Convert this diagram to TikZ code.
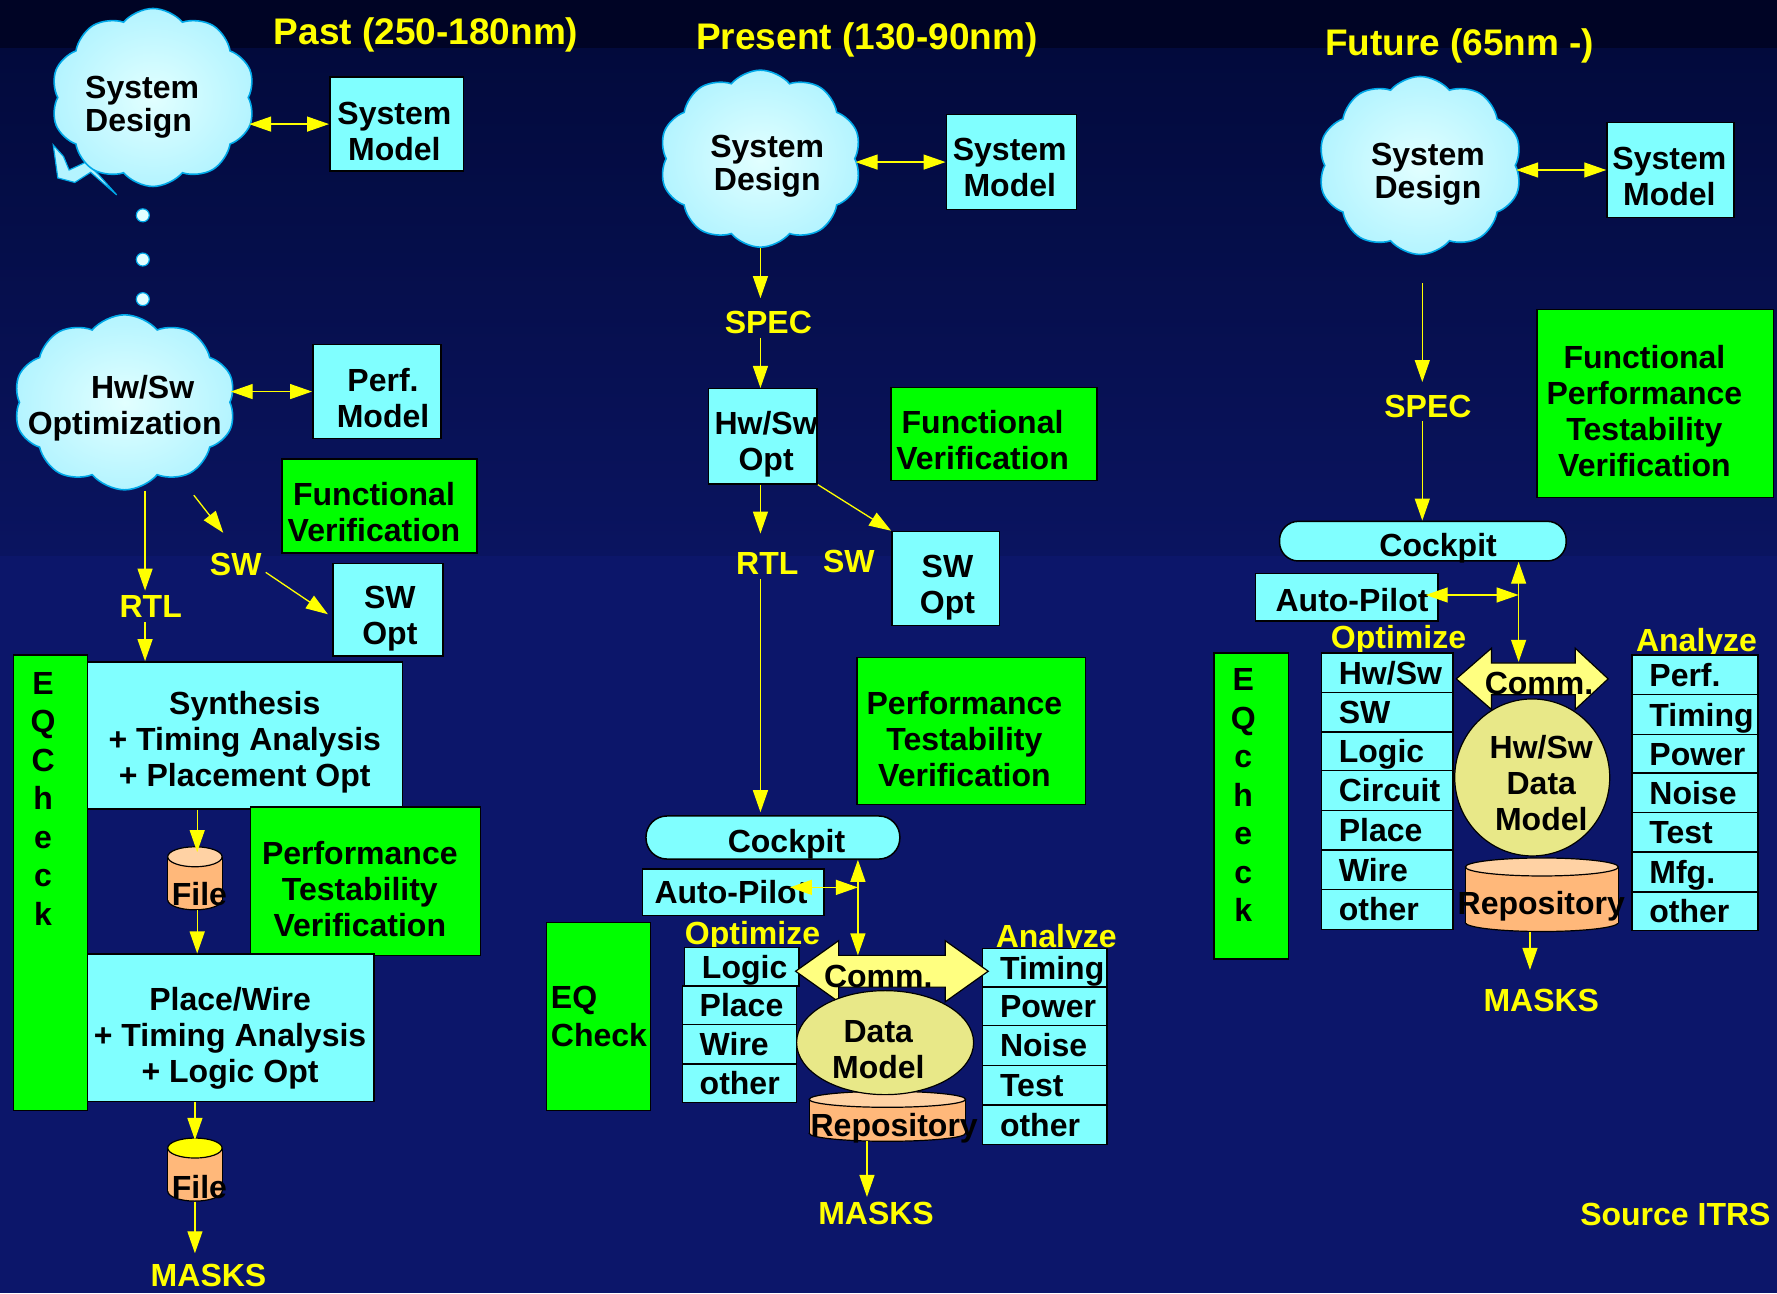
\documentclass[tikz,border=0pt]{standalone}
\usepackage{fontspec}
\setmainfont{Liberation Sans}
\usetikzlibrary{shapes.symbols,shapes.geometric,arrows.meta,fit,calc}
\definecolor{bgtop}{HTML}{000425}
\definecolor{bgmidA}{HTML}{020a3c}
\definecolor{bgmidB}{HTML}{0a1460}
\definecolor{bgbot}{HTML}{0c166a}
\definecolor{cyanc}{HTML}{80FFFF}
\definecolor{greenc}{HTML}{00FF00}
\definecolor{yellowc}{HTML}{FFFF00}
\definecolor{cloudin}{HTML}{E2FFFF}
\definecolor{cloudout}{HTML}{B4F4FF}
\definecolor{cloudline}{HTML}{00A8E8}
\definecolor{commc}{HTML}{FFFF80}
\definecolor{dmc}{HTML}{E8E888}
\definecolor{repbody}{HTML}{FFB87A}
\definecolor{reptop}{HTML}{FFD2A4}
\newcommand\bfz{\bfseries\fontsize{32}{36}\selectfont}
\newcommand\bfcl{\bfseries\fontsize{32}{33}\selectfont}
\newcommand\bfeq{\bfseries\fontsize{32}{38.5}\selectfont}
\newcommand\bfti{\bfseries\fontsize{37}{40}\selectfont}
% cylinder: x1,x2,ytop,ybot,rx,ry,body,top
\newcommand\cyl[8]{%
 \path[fill=#7, draw=black, line width=1.2pt] ({(#1+#2)/2},#4) ellipse [x radius=#5, y radius=#6];
 \fill[#7] (#1,#3) rectangle (#2,#4);
 \draw[line width=1.2pt] (#1,#3) -- (#1,#4) (#2,#3) -- (#2,#4);
 \path[fill=#8, draw=black, line width=1.2pt] ({(#1+#2)/2},#3) ellipse [x radius=#5, y radius=#6];
}
% comm arrow: left tip, head base 1, head base 2, right tip, yc
\newcommand\commarrow[5]{%
 \path[fill=commc, draw=black, line width=1.2pt] (#1,#5) -- (#2,{#5-27}) -- (#2,{#5-14}) -- (#3,{#5-14}) -- (#3,{#5-27}) -- (#4,#5) -- (#3,{#5+27}) -- (#3,{#5+14}) -- (#2,{#5+14}) -- (#2,{#5+27}) -- cycle;
}
% list item: name, x1,y1,x2,y2,text
\newcommand\li[6]{%
 \node[cbox, fit={(#2,#3)(#4,#5)}] (#1) {};
 \node[t1, anchor=west] (#1t) at ([xshift=18pt]#1.west) {#6};
}
\tikzset{
 base/.style={font=\bfz, align=center, inner sep=0pt},
 cbox/.style={base, draw=black, line width=1.5pt, fill=cyanc},
 gbox/.style={base, draw=black, line width=1.5pt, fill=greenc},
 t1/.style={base, text height=23pt, text depth=0pt},
 t2/.style={base, text height=59pt, text depth=0pt},
 t3/.style={base, text height=95pt, text depth=0pt},
 t4/.style={base, text height=131pt, text depth=0pt},
 ct2/.style={base, font=\bfcl, text height=56pt, text depth=0pt},
 lab/.style={base, text=yellowc, text height=23pt, text depth=0pt, inner sep=4pt},
 ttl/.style={base, font=\bfti, text=yellowc, text height=26.5pt, text depth=0pt, inner sep=4pt},
 arr/.style={draw=yellowc, line width=1.3pt, -{Triangle[length=22pt,width=15pt]}},
 dbl/.style={draw=yellowc, line width=1.3pt, {Triangle[length=22pt,width=15pt]}-{Triangle[length=22pt,width=15pt]}},
 cloudst/.style={cloud, cloud puffs=10, cloud puff arc=100, cloud ignores aspect, draw=cloudline, line width=1.6pt, shade, inner color=cloudin, outer color=cloudout, inner sep=0pt},
 dotst/.style={circle, minimum size=13pt, inner sep=0pt, fill=cloudin, draw=cloudline, line width=1.2pt},
 dm/.style={ellipse, draw=black, line width=1.2pt, fill=dmc, inner sep=0pt},
}
\begin{document}
\begin{tikzpicture}[x=1.133291pt, y=-1.133291pt]
% background
\useasboundingbox (0,0) rectangle (1568,1141);
\fill[bgbot] (0,0) rectangle (1568,1141);
\shade[top color=bgmidA, bottom color=bgmidB] (0,42) rectangle (1568,490);
\fill[bgtop] (0,0) rectangle (1568,42);

% titles
\node[ttl] (tpast) at (376,28) {Past (250-180nm)};
\node[ttl] (tpres) at (765,32) {Present (130-90nm)};
\node[ttl] (tfut) at (1288,37) {Future (65nm -)};

%================ PAST =================
\path[fill=cloudout, draw=cloudline, line width=1.2pt] (47,128) -- (51,157) -- (66,161) -- (80,152) -- (103,172) -- (86,153) -- (76,143) -- (61,150) -- (56,138) -- cycle;
\node[cloudst, minimum width=204pt, minimum height=178pt] (psd) at (135,86) {};
\node[ct2, anchor=west, align=left] (psdt) at (75,91) {System\\Design};
\node[cbox, fit={(291,68)(409,151)}] (psm) {};
\node[t2] (psmt) at (348,115.5) {System\\Model};
\draw[dbl] (psd.east |- psm.west) -- (psm.west);
\node[dotst] (pd1) at (126,190) {};
\node[dotst] (pd2) at (126,229) {};
\node[dotst] (pd3) at (126,264) {};
\node[cloudst, minimum width=222pt, minimum height=175pt] (phw) at (110,355) {};
\node[t2, text height=60pt] (phwt) at (110,356.5) {\hspace*{36pt}Hw/Sw\\Optimization};
\node[cbox, fit={(276,304)(389,387)}] (ppm) {};
\node[t2] (ppmt) at (338,351.5) {Perf.\\Model};
\draw[dbl] (phw.east |- ppm.west) -- (ppm.west);
\node[gbox, fit={(249,405)(421,488)}] (pfv) {};
\node[t2] (pfvt) at (330,452) {Functional\\Verification};
\coordinate (pax) at (128,0);
\node[lab] (prtl) at (133,535) {RTL};
\draw[arr] (phw.south -| pax) -- (prtl.north -| pax);
\node[gbox, fit={(12,578)(77,980)}] (peq) {};
\node[base, font=\bfeq, anchor=north] (peqt) at (38,593) {E\\Q\\C\\h\\e\\c\\k};
\node[cbox, fit={(77,584)(355,714)}] (psyn) {};
\node[t3] (psynt) at (216,652.5) {Synthesis\\+ Timing Analysis\\+ Placement Opt};
\draw[arr] (prtl.south -| pax) -- (psyn.north -| pax);
\node[lab] (psw) at (208,498) {SW};
\draw[arr] ($(phw.south)+(61,4)$) -- ($(psw.north)+(-11,-14)$);
\node[cbox, fit={(294,497)(391,579)}] (pswo) {};
\node[t2] (pswot) at (344,543) {SW\\Opt};
\draw[arr] ($(psw.east)+(0,7)$) -- ($(pswo.west)+(-4,4)$);
\node[gbox, fit={(221,712)(424,843)}] (pptv) {};
\node[t3] (pptvt) at (317.5,784) {Performance\\Testability\\Verification};
\cyl{148}{196}{756}{794}{27.2pt}{10pt}{repbody}{reptop}
\node[inner sep=0pt, fit={(148,752)(196,803)}] (pf1) {};
\node[t1] (pf1t) at (176,789) {File};
\coordinate (pfx) at (174,0);
\draw[arr] (psyn.south -| pfx) -- (pf1.north -| pfx);
\node[cbox, fit={(77,842)(330,972)}] (ppw) {};
\node[t3] (ppwt) at (203,913) {Place/Wire\\+ Timing Analysis\\+ Logic Opt};
\draw[arr] (pf1.south -| pfx) -- (ppw.north -| pfx);
\cyl{148}{196}{1013}{1051}{27.2pt}{10pt}{repbody}{yellowc}
\node[inner sep=0pt, fit={(148,1006)(196,1060)}] (pf2) {};
\node[t1] (pf2t) at (176,1047) {File};
\coordinate (pfx2) at (172,0);
\draw[arr] (ppw.south -| pfx2) -- (pf2.north -| pfx2);
\node[lab] (pmask) at (184,1125) {MASKS};
\draw[arr, shorten >=6pt] (pf2.south -| pfx2) -- (pmask.north -| pfx2);

%================ PRESENT =================
\node[cloudst, minimum width=202pt, minimum height=177pt] (prsd) at (671,140) {};
\node[ct2] (prsdt) at (677,143.5) {System\\Design};
\node[cbox, fit={(835,101)(950,185)}] (prsm) {};
\node[t2] (prsmt) at (891,147.5) {System\\Model};
\draw[dbl] (prsd.east |- prsm.west) -- (prsm.west);
\coordinate (prx) at (671,0);
\node[lab] (prspec) at (678,284) {SPEC};
\draw[arr, shorten >=8pt] (prsd.south -| prx) -- (prspec.north -| prx);
\node[cbox, fit={(625,343)(721,427)}] (prhw) {};
\node[t2] (prhwt) at (676,389.5) {Hw/Sw\\Opt};
\draw[arr] (prspec.south -| prx) -- (prhw.north -| prx);
\node[gbox, fit={(786,342)(968,424)}] (prfv) {};
\node[t2] (prfvt) at (867,388) {Functional\\Verification};
\node[lab] (prrtl) at (677,497) {RTL};
\node[lab] (prsw) at (749,495) {SW};
\draw[arr, shorten >=14pt] (prhw.south -| prx) -- (prrtl.north -| prx);
\node[cbox, fit={(787,469)(882,552)}] (prswo) {};
\node[t2] (prswot) at (836,515.5) {SW\\Opt};
\draw[arr] (prhw.south east) -- (prswo.north west);
\node[gbox, fit={(756,580)(958,710)}] (prptv) {};
\node[t3] (prptvt) at (851,652) {Performance\\Testability\\Verification};
\node[cbox, rounded corners=21pt, fit={(570,720)(794,758)}] (prck) {};
\node[t1] (prckt) at (694,742) {Cockpit};
\draw[arr, shorten >=3pt] (prrtl.south -| prx) -- (prck.north -| prx);
\node[cbox, fit={(567,767)(727,808)}] (prap) {};
\node[t1] (prapt) at (645,787) {Auto-Pilot};
\node[gbox, fit={(482,814)(574,980)}] (preq) {};
\node[base, font=\bfeq, anchor=west, align=left] (preqt) at (486,897) {EQ\\Check};
\node[lab] (propt) at (664,823) {Optimize};
\li{prl1}{604}{836}{705}{870}{Logic}
\li{prl2}{602}{870}{703}{904}{Place}
\li{prl3}{602}{904}{703}{939}{Wire}
\li{prl4}{602}{939}{703}{973}{other}
\node[lab] (prana) at (932,826) {Analyze};
\li{pra1}{867}{837}{977}{871}{Timing}
\li{pra2}{867}{871}{977}{905}{Power}
\li{pra3}{867}{905}{977}{940}{Noise}
\li{pra4}{867}{940}{977}{975}{Test}
\li{pra5}{867}{975}{977}{1010}{other}
\commarrow{702}{740}{834}{872}{857}
\node[t1] (prcomm) at (775,861) {Comm.};
\cyl{714}{852}{970}{1000}{78.2pt}{8pt}{repbody}{reptop}
\node[dm, minimum width=177pt, minimum height=104pt] (prdm) at (781,920) {};
\node[t2] (prdmt) at (775,925.5) {Data\\Model};
\node[inner sep=0pt, fit={(714,963)(852,1007)}] (prrep) {};
\node[t1] (prrept) at (789,993) {Repository};
\coordinate (prv) at (757,0);
\coordinate (prcommtop) at (757,843);
\draw[dbl] (prck.south -| prv) -- (prcommtop);
\coordinate (prapin) at (697,783);
\draw[dbl] (prapin) -- (prv |- prapin);
\node[lab] (prmask) at (773,1070) {MASKS};
\coordinate (prmx) at (765,0);
\draw[arr] (prrep.south -| prmx) -- (prmask.north -| prmx);

%================ FUTURE =================
\node[cloudst, minimum width=204pt, minimum height=178pt] (fsd) at (1253,146) {};
\node[ct2] (fsdt) at (1260,150.5) {System\\Design};
\node[cbox, fit={(1418,108)(1530,192)}] (fsm) {};
\node[t2] (fsmt) at (1473,155.5) {System\\Model};
\draw[dbl] (fsd.east |- fsm.west) -- (fsm.west);
\coordinate (fx) at (1255,0);
\node[lab] (fspec) at (1260,358) {SPEC};
\draw[arr, shorten <=28pt, shorten >=8pt] (fsd.south -| fx) -- (fspec.north -| fx);
\node[gbox, fit={(1356,273)(1565,439)}] (ffptv) {};
\node[t4] (ffptvt) at (1451,362.7) {Functional\\Performance\\Testability\\Verification};
\node[cbox, rounded corners=19pt, fit={(1129,460)(1382,495)}] (fck) {};
\node[t1] (fckt) at (1269,481) {Cockpit};
\draw[arr] (fspec.south -| fx) -- (fck.north -| fx);
\node[cbox, fit={(1108,506)(1269,548)}] (fap) {};
\node[t1] (fapt) at (1193,529) {Auto-Pilot};
\node[gbox, fit={(1071,576)(1137,846)}] (feq) {};
\node[base, font=\bfeq, anchor=north] (feqt) at (1097,590) {E\\Q\\c\\h\\e\\c\\k};
\node[lab] (fopt) at (1234,562) {Optimize};
\li{fl1}{1166}{576}{1282}{611}{Hw/Sw}
\li{fl2}{1166}{611}{1282}{646}{SW}
\li{fl3}{1166}{646}{1282}{680}{Logic}
\li{fl4}{1166}{680}{1282}{715}{Circuit}
\li{fl5}{1166}{715}{1282}{750}{Place}
\li{fl6}{1166}{750}{1282}{785}{Wire}
\li{fl7}{1166}{785}{1282}{820}{other}
\node[lab] (fana) at (1497,565) {Analyze};
\li{fa1}{1440}{578}{1551}{613}{Perf.}
\li{fa2}{1440}{613}{1551}{648}{Timing}
\li{fa3}{1440}{648}{1551}{682}{Power}
\li{fa4}{1440}{682}{1551}{717}{Noise}
\li{fa5}{1440}{717}{1551}{752}{Test}
\li{fa6}{1440}{752}{1551}{787}{Mfg.}
\li{fa7}{1440}{787}{1551}{821}{other}
\commarrow{1285}{1316}{1390}{1419}{599}
\node[t1] (fcomm) at (1358,603) {Comm.};
\cyl{1293}{1428}{765}{814}{76.5pt}{9pt}{repbody}{reptop}
\node[dm, minimum width=155pt, minimum height=157pt] (fdm) at (1352,686) {};
\node[t3, text height=97pt] (fdmt) at (1360,689.7) {\bfseries\fontsize{32}{37}\selectfont Hw/Sw\\Data\\Model};
\node[inner sep=0pt, fit={(1293,757)(1428,822)}] (frep) {};
\node[t1] (frept) at (1360,797) {Repository};
\coordinate (fv) at (1340,0);
\coordinate (fcommtop) at (1340,584);
\draw[dbl] (fck.south -| fv) -- (fcommtop);
\coordinate (fapin) at (1258,525);
\draw[dbl] (fapin) -- (fv |- fapin);
\node[lab] (fmask) at (1360,882) {MASKS};
\coordinate (fmx) at (1350,0);
\draw[arr, shorten >=14pt] (frep.south -| fmx) -- (fmask.north -| fmx);

\node[lab, anchor=east] (src) at (1566,1071) {Source ITRS};
\end{tikzpicture}
\end{document}
